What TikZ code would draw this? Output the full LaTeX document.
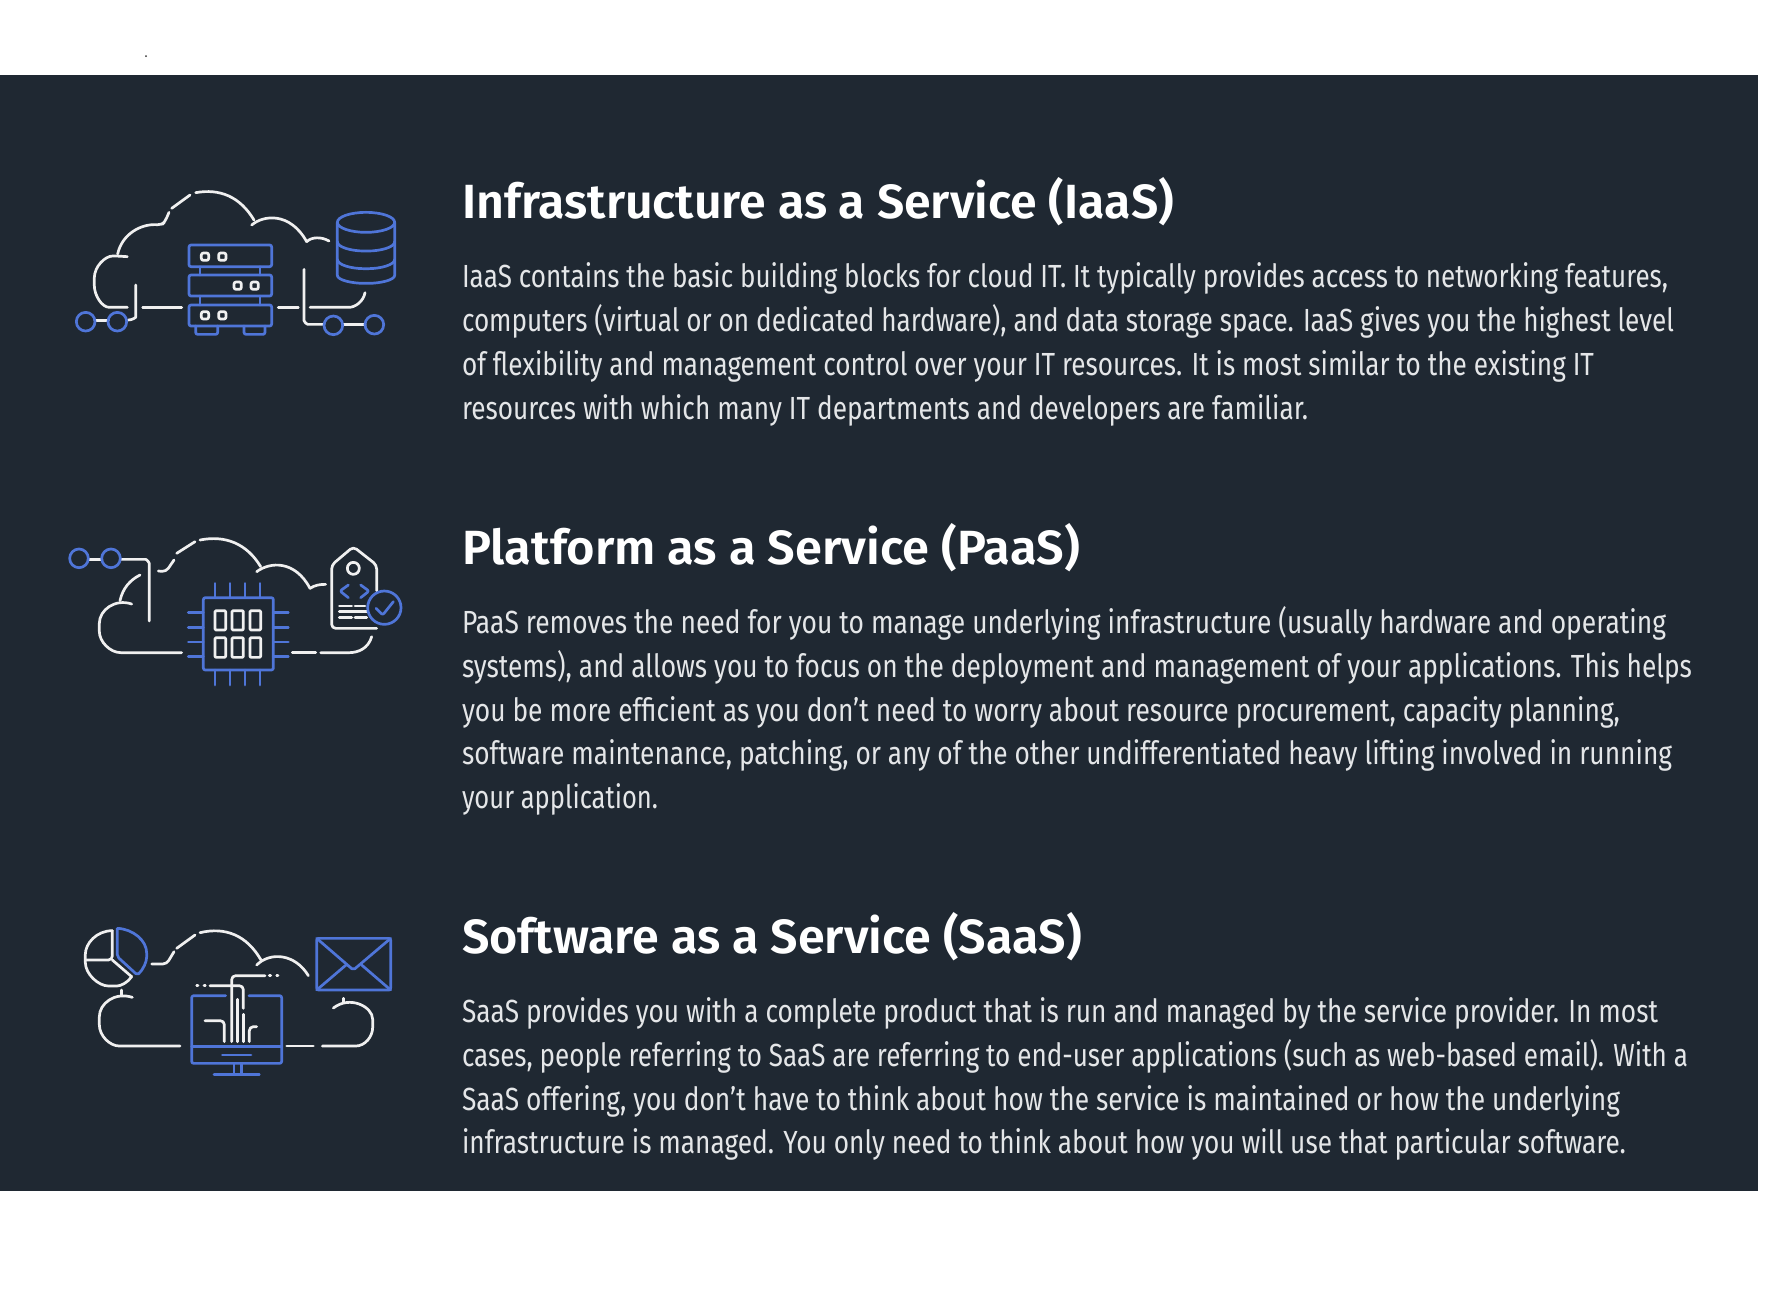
\documentclass[tikz,border=0pt]{standalone}
\usepackage{fontspec}
\setmainfont{Fira Sans}
\newfontfamily\bodyfont{Fira Sans}
\newfontfamily\headfont{Fira Sans SemiBold}
\definecolor{panel}{HTML}{1F2832}
\definecolor{ublue}{HTML}{4F75D8}
\definecolor{uwhite}{HTML}{F0F0F0}
\definecolor{btext}{HTML}{E4E6E8}
\newcommand{\fitw}[2]{\resizebox{#1}{\height}{#2}}
\newcommand{\ttl}[2]{\fitw{#1}{\fontsize{24}{24}\headfont #2}}
\newcommand{\bdy}[2]{\fitw{#1}{\color{btext}\fontsize{16}{16}\bodyfont #2}}
\tikzset{
  txt/.style={anchor=base west,inner sep=0pt,outer sep=0pt,text=white},
  wl/.style={draw=uwhite,line width=1.35pt,line cap=round,line join=round,rounded corners=2pt},
  bl/.style={draw=ublue,line width=1.35pt,line cap=round,line join=round,rounded corners=1pt},
  icon/.style={x=0.16667pt,y=-0.16667pt}
}
\begin{document}
\begin{tikzpicture}[x=0.5pt,y=-0.5pt]
\useasboundingbox (0,0) rectangle (1780,1308);
\fill[white] (0,0) rectangle (1780,1308);
\fill[panel] (0,75) rectangle (1758,1191);
\fill[black!80] (146,56) circle (1);

% ---- text
\node[txt] (t1) at (462,218) {\ttl{356pt}{Infrastructure as a Service (IaaS)}};
\node[txt] (a1) at (462,287) {\bdy{603pt}{IaaS contains the basic building blocks for cloud IT. It typically provides access to networking features,}};
\node[txt] (a2) at (462,331) {\bdy{606pt}{computers (virtual or on dedicated hardware), and data storage space. IaaS gives you the highest level}};
\node[txt] (a3) at (462,375) {\bdy{566pt}{of flexibility and management control over your IT resources. It is most similar to the existing IT}};
\node[txt] (a4) at (462,419) {\bdy{423pt}{resources with which many IT departments and developers are familiar.}};

\node[txt] (t2) at (462,564) {\ttl{309pt}{Platform as a Service (PaaS)}};
\node[txt] (b1) at (462,633) {\bdy{602pt}{PaaS removes the need for you to manage underlying infrastructure (usually hardware and operating}};
\node[txt] (b2) at (462,677) {\bdy{615pt}{systems), and allows you to focus on the deployment and management of your applications. This helps}};
\node[txt] (b3) at (462,721) {\bdy{579pt}{you be more efficient as you don’t need to worry about resource procurement, capacity planning,}};
\node[txt] (b4) at (462,764) {\bdy{605pt}{software maintenance, patching, or any of the other undifferentiated heavy lifting involved in running}};
\node[txt] (b5) at (462,808) {\bdy{98pt}{your application.}};

\node[txt] (t3) at (462,953) {\ttl{310pt}{Software as a Service (SaaS)}};
\node[txt] (c1) at (462,1022) {\bdy{598pt}{SaaS provides you with a complete product that is run and managed by the service provider. In most}};
\node[txt] (c2) at (462,1066) {\bdy{613pt}{cases, people referring to SaaS are referring to end-user applications (such as web-based email). With a}};
\node[txt] (c3) at (462,1110) {\bdy{579pt}{SaaS offering, you don’t have to think about how the service is maintained or how the underlying}};
\node[txt] (c4) at (462,1153) {\bdy{582pt}{infrastructure is managed. You only need to think about how you will use that particular software.}};

% ---- IaaS icon
\begin{scope}[shift={(50,170)},icon]
\draw[wl] (232,412) -- (190,412) .. controls (155,412) and (133,375) .. (133,335) .. controls (133,290) and (165,258) .. (200,258) -- (232,260);
\draw[wl] (203,252) .. controls (215,195) and (270,160) .. (335,165) -- (345,155) -- (357,127);
\draw[wl] (365,115) -- (420,75);
\draw[wl] (437,68) .. controls (510,55) and (570,80) .. (612,150);
\draw[wl] (605,165) .. controls (640,135) and (720,125) .. (770,215);
\draw[wl] (770,215) .. controls (785,200) and (815,200) .. (837,213);
\draw[wl] (278,412) -- (395,412);
\draw[wl] (685,412) -- (745,412);
\draw[wl] (780,412) -- (885,412) .. controls (915,412) and (940,395) .. (945,368);
\draw[wl] (257,345) -- (257,430) .. controls (257,442) and (247,450) .. (235,450);
\draw[wl] (762,298) -- (762,440) .. controls (762,455) and (770,463) .. (785,463) -- (820,463);
\draw[wl] (135,451) -- (175,451);
\draw[wl] (880,463) -- (945,463);
\draw[bl] (107,455) circle (28);
\draw[bl] (202,455) circle (28);
\draw[bl] (850,466) circle (28);
\draw[bl] (973,464) circle (28);
\draw[bl] (417,225) rectangle (665,290);
\draw[bl] (417,315) rectangle (665,378);
\draw[bl] (417,405) rectangle (665,468);
\draw[bl] (450,290) -- (450,315) (630,290) -- (630,315) (450,378) -- (450,405) (630,378) -- (630,405);
\draw[bl] (437,468) -- (437,493) -- (503,493) -- (503,468);
\draw[bl] (582,468) -- (582,493) -- (645,493) -- (645,468);
\foreach \p in {(465,260),(517,260),(563,347),(614,347),(465,436),(517,436)}
  \draw[wl,rounded corners=1pt] \p ++(-11,-11) rectangle ++(22,22);
\draw[bl] (948,157) ellipse [x radius=86,y radius=30];
\draw[bl] (862,157) -- (862,310) .. controls (862,330) and (905,340) .. (948,340) .. controls (991,340) and (1034,330) .. (1034,310) -- (1034,157);
\draw[bl] (862,215) .. controls (862,232) and (905,243) .. (948,243) .. controls (991,243) and (1034,232) .. (1034,215);
\draw[bl] (862,268) .. controls (862,285) and (905,296) .. (948,296) .. controls (991,296) and (1034,285) .. (1034,268);
\end{scope}

% ---- PaaS icon
\begin{scope}[shift={(50,520)},icon]
\draw[wl] (115,118) -- (155,118);
\draw[wl] (212,118) -- (275,118) .. controls (290,118) and (298,128) .. (298,143) -- (298,303);
\draw[wl] (270,165) .. controls (240,180) and (218,205) .. (210,242);
\draw[wl] (245,252) .. controls (195,235) and (148,270) .. (148,322) .. controls (148,365) and (180,398) .. (225,398) -- (395,398);
\draw[wl] (325,153) -- (348,155) -- (372,120);
\draw[wl] (380,100) -- (435,65);
\draw[wl] (450,60) .. controls (525,45) and (590,70) .. (632,140);
\draw[wl] (620,155) .. controls (660,125) and (735,120) .. (780,205);
\draw[wl] (780,205) .. controls (795,195) and (810,193) .. (827,193);
\draw[wl] (727,398) -- (797,398);
\draw[wl] (812,398) -- (885,398) .. controls (925,398) and (955,385) .. (965,350);
\draw[bl] (87,115) circle (28);
\draw[bl] (183,115) circle (28);
\draw[bl] (460,233) rectangle (670,450);
\foreach \a in {495,540,585,630} {
  \draw[bl] (\a,190) -- (\a,233);
  \draw[bl] (\a,450) -- (\a,495);
}
\foreach \a in {278,322,366,410} {
  \draw[bl] (415,\a) -- (460,\a);
  \draw[bl] (670,\a) -- (715,\a);
}
\foreach \a/\b in {495/527,546/580,600/632} {
  \draw[wl,rounded corners=0.5pt] (\a,272) rectangle (\b,330);
  \draw[wl,rounded corners=0.5pt] (\a,353) rectangle (\b,412);
}
\draw[wl] (980,212) -- (980,135) -- (910,80) -- (845,135) -- (845,325) -- (980,325);
\draw[wl] (910,145) circle (18);
\draw[bl] (895,195) -- (870,213) -- (895,233);
\draw[bl] (932,195) -- (957,213) -- (932,233);
\draw[wl] (868,258) -- (905,258) (915,258) -- (945,258);
\draw[wl] (868,275) -- (950,275);
\draw[wl] (868,293) -- (905,293) (915,293) -- (950,293);
\draw[bl] (1003,263) circle (50);
\draw[bl] (978,265) -- (998,285) -- (1030,245);
\end{scope}

% ---- SaaS icon
\begin{scope}[shift={(60,910)},icon]
\draw[wl] (157,62) -- (157,150) -- (78,150);
\draw[wl] (157,150) -- (215,200);
\draw[wl] (157,62) .. controls (110,62) and (76,100) .. (76,145) .. controls (76,192) and (115,228) .. (158,228) .. controls (182,228) and (203,218) .. (215,200);
\draw[bl] (172,55) -- (172,140) -- (232,195) .. controls (250,178) and (260,155) .. (260,135) .. controls (260,92) and (220,57) .. (172,55);
\draw[wl] (275,162) -- (320,162) -- (342,125);
\draw[wl] (350,115) -- (405,75);
\draw[wl] (420,68) .. controls (495,50) and (560,75) .. (603,150);
\draw[wl] (590,165) .. controls (630,125) and (705,130) .. (745,197);
\draw[wl] (185,240) -- (185,256);
\draw[wl] (217,262) .. controls (165,245) and (118,280) .. (118,332) .. controls (118,378) and (150,408) .. (190,408) -- (360,408);
\draw[wl] (680,408) -- (760,408);
\draw[wl] (787,408) -- (875,408) .. controls (915,408) and (938,380) .. (938,340) .. controls (938,290) and (870,255) .. (820,294);
\draw[wl] (850,265) -- (850,275);
\draw[bl] (770,85) rectangle (992,240);
\draw[bl] (770,85) -- (880,180) -- (992,85);
\draw[bl] (770,240) -- (858,165);
\draw[bl] (992,240) -- (905,165);
\draw[bl] (497,257) -- (395,257) -- (395,460) -- (665,460) -- (665,257) -- (567,257);
\draw[bl] (395,410) -- (665,410);
\draw[bl] (487,435) -- (573,435);
\draw[bl] (522,460) -- (522,493) (545,460) -- (545,493);
\draw[bl] (462,493) -- (598,493);
\draw[wl] (410,227) -- (414,227) (432,227) -- (436,227);
\draw[wl] (450,227) -- (550,227) -- (550,295);
\draw[wl] (628,197) -- (632,197) (650,197) -- (654,197);
\draw[wl] (615,197) -- (515,197) -- (515,395);
\draw[wl] (435,332) -- (493,332) -- (493,395);
\draw[wl] (533,268) -- (533,395);
\draw[wl] (550,313) -- (550,395);
\draw[wl] (568,395) -- (568,350) -- (590,350);
\end{scope}
\end{tikzpicture}
\end{document}
